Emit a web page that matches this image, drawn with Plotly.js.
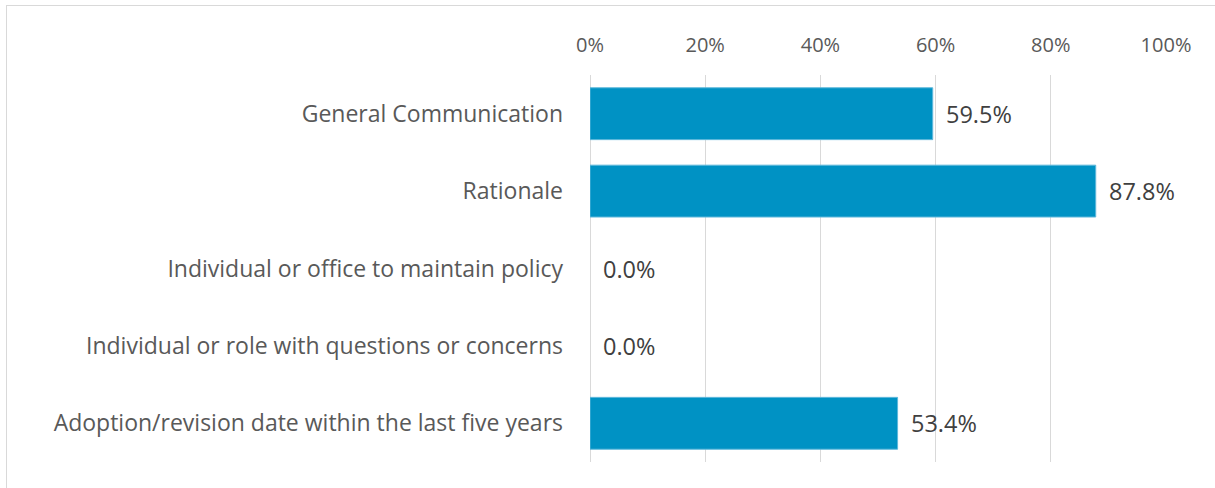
<!DOCTYPE html>
<html>
<head>
<meta charset="utf-8">
<script src="https://cdn.plot.ly/plotly-3.0.1.min.js"></script>
<style>
  html, body { margin: 0; padding: 0; background: #ffffff; }
  #chart { width: 1215px; height: 488px; }
  #frame { position: absolute; left: 6px; top: 5px; width: 1400px; height: 700px;
           border: 1px solid #d9d9d9; pointer-events: none; }
</style>
</head>
<body>
<div id="chart"></div>
<div id="frame"></div>
<script>
const categories = [
  "General Communication",
  "Rationale",
  "Individual or office to maintain policy",
  "Individual or role with questions or concerns",
  "Adoption/revision date within the last five years"
];
const values = [59.5, 87.8, 0.0, 0.0, 53.4];
const tickValues = [0, 20, 40, 60, 80, 100];
const tickLabels = ["0%", "20%", "40%", "60%", "80%", "100%"];

const font = "Open Sans, Arial, sans-serif";

const trace = {
  type: "bar",
  orientation: "h",
  y: categories,
  x: values,
  width: 0.67,
  marker: {
    color: "#0092c4",
    line: { color: "#5fb8db", width: values.map(v => v > 0 ? 1 : 0) }
  },
  hoverinfo: "skip"
};

const annotations = categories.map((c, i) => ({
  x: values[i], y: c, xref: "x", yref: "y",
  text: values[i].toFixed(1) + "%",
  showarrow: false, xanchor: "left", xshift: 11,
  font: { family: font, size: 23.5, color: "#404040" }
}));

const layout = {
  width: 1215, height: 488,
  margin: { l: 590, r: 49, t: 75, b: 26 },
  paper_bgcolor: "#ffffff", plot_bgcolor: "#ffffff",
  showlegend: false,
  bargap: 0.33,
  xaxis: {
    side: "top",
    range: [0, 100],
    tickvals: tickValues,
    ticktext: tickLabels,
    showgrid: true, gridcolor: "#d9d9d9", gridwidth: 1,
    zeroline: true, zerolinecolor: "#d9d9d9", zerolinewidth: 1,
    showline: false, ticks: "",
    ticklabelstandoff: 18,
    tickfont: { family: font, size: 20, color: "#595959" },
    fixedrange: true
  },
  yaxis: {
    type: "category",
    autorange: "reversed",
    categoryorder: "array",
    categoryarray: categories,
    showgrid: false, zeroline: false, showline: false, ticks: "",
    ticklabelstandoff: 26,
    tickfont: { family: font, size: 23, color: "#595959" },
    fixedrange: true
  },
  annotations: annotations
};

Plotly.newPlot("chart", [trace], layout, { displayModeBar: false, staticPlot: true });
</script>
</body>
</html>
